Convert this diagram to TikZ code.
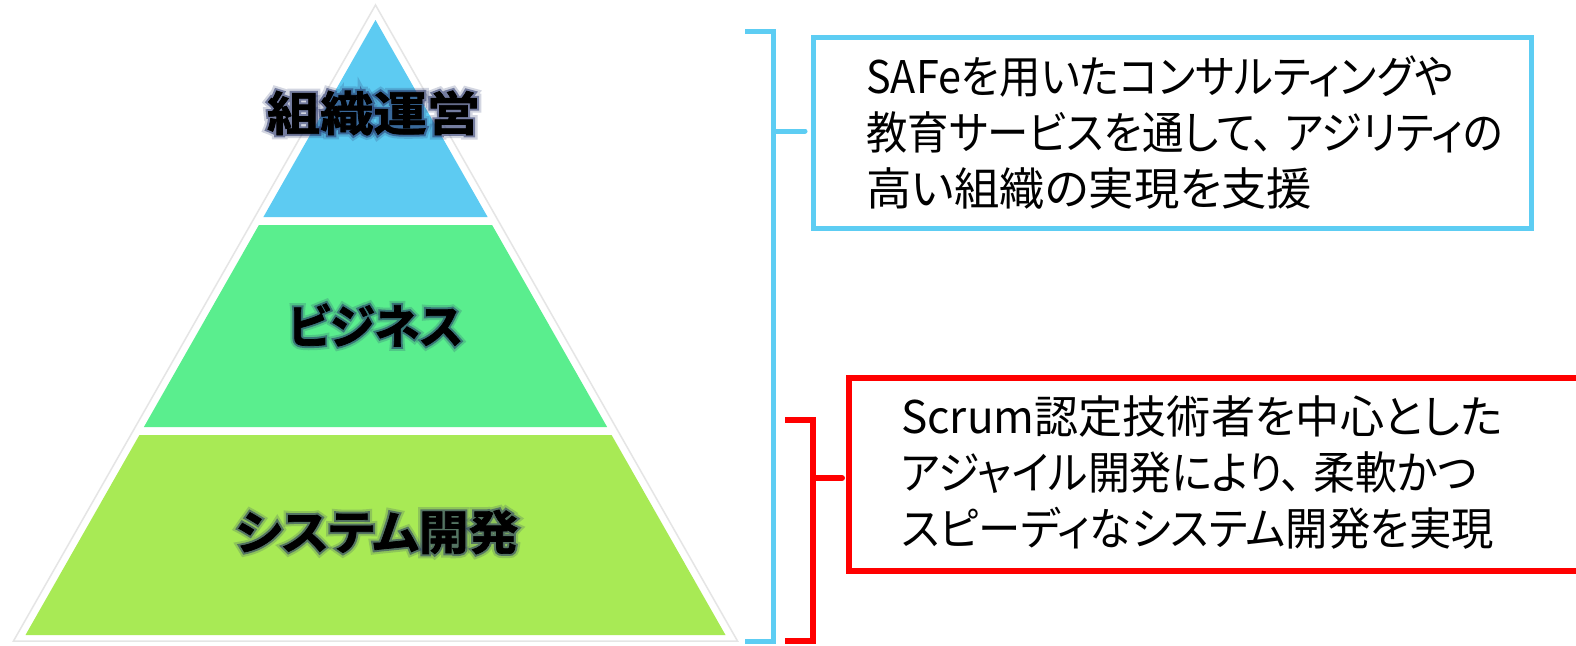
\documentclass[tikz,border=0pt]{standalone}
\usepackage{fontspec}
\usepackage{graphicx}
\newfontfamily\jp[RawFeature=+palt]{Noto Sans CJK JP}
\newfontfamily\jpheavy[RawFeature=+palt, UprightFont={* Bold}, FakeBold=1.5]{Noto Sans CJK JP}
\newfontfamily\jpglowa[RawFeature=+palt, UprightFont={* Bold}, FakeBold=10]{Noto Sans CJK JP}
\newfontfamily\jpglowb[RawFeature=+palt, UprightFont={* Bold}, FakeBold=19]{Noto Sans CJK JP}
\newcommand\fitw[2]{\resizebox{#1}{\height}{#2}}
\newcommand\labA{\fitw{213pt}{組織運営}}
\newcommand\labB{\fitw{175pt}{ビジネス}}
\newcommand\labC{\fitw{283pt}{システム開発}}
\definecolor{tierblue}{HTML}{5DCBF2}
\definecolor{tiergreen}{HTML}{5AEE8E}
\definecolor{tierlime}{HTML}{A8EA55}
\definecolor{brblue}{HTML}{5DCDF3}
\definecolor{brred}{HTML}{FF0000}
\definecolor{glowc}{HTML}{26336A}
\tikzset{
  lbl/.style={inner sep=0pt, text=black, font=\jpheavy\fontsize{47}{50}\selectfont},
  glowa/.style={inner sep=0pt, text=glowc, text opacity=0.55, font=\jpglowa\fontsize{47}{50}\selectfont},
  glowb/.style={inner sep=0pt, text=glowc, text opacity=0.20, font=\jpglowb\fontsize{47}{50}\selectfont},
  bluebr/.style={draw=brblue, line width=5pt, line join=miter},
  redbr/.style={draw=brred, line width=6pt, line join=miter},
  bluebox/.style={draw=brblue, line width=5pt, fill=white, minimum width=718pt, minimum height=191pt, inner sep=0pt},
  redbox/.style={draw=brred, line width=6pt, fill=white, minimum width=751pt, minimum height=193.5pt, inner sep=0pt},
  desc/.style={inner sep=0pt, align=left, anchor=west, text=black, font=\jp\fontsize{45}{56}\selectfont},
}
\begin{document}
\begin{tikzpicture}[x=1pt,y=-1pt]
\useasboundingbox (0,0) rectangle (1576,645);
\clip (0,0) rectangle (1576,645);
\fill[white] (0,0) rectangle (1576,645);
% pyramid
\filldraw[fill=white, draw=black!10, line width=1.5pt] (375.5,5) -- (737.5,641) -- (13.5,641) -- cycle;
\fill[tierblue] (375.5,20) -- (487.6,217) -- (263.4,217) -- cycle;
\fill[tiergreen] (258.9,225) -- (492.1,225) -- (607.1,427) -- (143.9,427) -- cycle;
\fill[tierlime] (139.4,435) -- (611.6,435) -- (725.5,635) -- (25.5,635) -- cycle;
% labels with glow
\begin{scope}[draw opacity=0.20]
  \node[glowb] (gbA) at (373.5,113) {\labA};
  \node[glowb] (gbB) at (375.5,325) {\labB};
  \node[glowb] (gbC) at (377,532) {\labC};
\end{scope}
\begin{scope}[draw opacity=0.55]
  \node[glowa] (gaA) at (373.5,113) {\labA};
  \node[glowa] (gaB) at (375.5,325) {\labB};
  \node[glowa] (gaC) at (377,532) {\labC};
\end{scope}
\node[lbl] (top) at (373.5,113) {\labA};
\node[lbl] (mid) at (375.5,325) {\labB};
\node[lbl] (bot) at (377,532) {\labC};
% boxes
\node[bluebox] (sbox) at (1172,132.5) {};
\node[redbox] (rbox) at (1224.5,474.25) {};
\node[desc] (stext) at (866,133) {\fitw{587pt}{SAFeを用いたコンサルティングや}\\\fitw{637pt}{教育サービスを通して、\hspace{12pt}アジリティの}\\\fitw{446pt}{高い組織の実現を支援}};
\node[desc] (rtext) at (901,473) {\fitw{601pt}{Scrum認定技術者を中心とした}\\\fitw{576pt}{アジャイル開発により、\hspace{12pt}柔軟かつ}\\\fitw{593pt}{スピーディなシステム開発を実現}};
% brackets
\coordinate (bt) at (745,31);
\coordinate (bb) at (745,641);
\coordinate (bm) at (773.5,131);
\coordinate (btip) at (805,131);
\draw[bluebr] (bt) -- (773.5,31) -- (773.5,641) -- (bb);
\draw[bluebr, line cap=round] (bm) -- (btip);
\coordinate (rt) at (785,420);
\coordinate (rb) at (785,641);
\coordinate (rm) at (813,478);
\coordinate (rtip) at (842,478);
\draw[redbr] (rt) -- (813,420) -- (813,641) -- (rb);
\draw[redbr, line cap=round] (rm) -- (rtip);
\end{tikzpicture}
\end{document}
